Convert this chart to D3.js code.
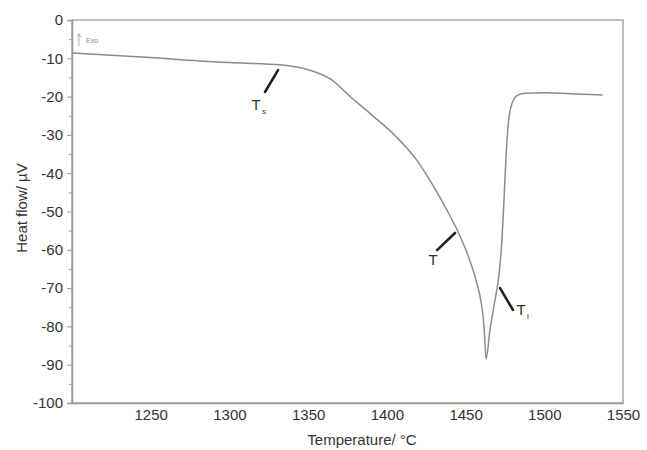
<!DOCTYPE html>
<html>
<head>
<meta charset="utf-8">
<script src="https://cdn.jsdelivr.net/npm/d3@7"></script>
<style>
  body { margin: 0; background: #fff; }
  svg { font-family: "Liberation Sans", Arial, sans-serif; }
</style>
</head>
<body>
<div id="grafico"></div>
<script>
// data
var temperature = [1200, 1250, 1281, 1300, 1332, 1351, 1364, 1377, 1389, 1406, 1419, 1429, 1438, 1446, 1452, 1457, 1460, 1461.5, 1462.3, 1463,
                   1465.5, 1468.7, 1471.2, 1473.1, 1474.4, 1475.6, 1476.9, 1479.4, 1483.2, 1487.7, 1500, 1520, 1537];
var heatFlow = [-8.6, -9.8, -10.7, -11.1, -11.7, -13.1, -15.4, -20.1, -24.3, -30.5, -36.6, -43, -49.5, -56, -62, -68.5, -74, -79, -84, -88.5,
                -80.9, -73.1, -66.6, -57.4, -47, -36.6, -28.2, -21.9, -19.6, -19.1, -19, -19.3, -19.6];

var xTicks = [1250, 1300, 1350, 1400, 1450, 1500, 1550];
var yTicks = [0, -10, -20, -30, -40, -50, -60, -70, -80, -90, -100];

// annotations: [label, sub, labelX, labelY, arrow x1, y1, x2, y2]
var marks = [
  ["T", "s", 1316.9, -23.5, 1322.6, -18.8, 1330.9, -13.1],
  ["T", "", 1429.3, -64, 1431.9, -60.1, 1443.3, -55.6],
  ["T", "l", 1485.2, -77, 1480.1, -75.7, 1471.9, -70]
];

var margin = {top: 20, right: 24, bottom: 47, left: 72},
    width = 647 - margin.left - margin.right,
    height = 450 - margin.top - margin.bottom;

var svg = d3.select("#grafico")
  .append("svg")
    .attr("width", 647)
    .attr("height", 450)
  .append("g")
    .attr("transform", "translate(" + margin.left + "," + margin.top + ")");

var x = d3.scaleLinear().domain([1200, 1550]).range([0, width]);
var y = d3.scaleLinear().domain([-100, 0]).range([height, 0]);

var axisCol = "#999", textCol = "#333";

// frame
svg.append("rect")
  .attr("width", width).attr("height", height)
  .attr("fill", "none").attr("stroke", "#aaa").attr("stroke-width", 1.5);

// y axis
var yAx = svg.append("g")
  .call(d3.axisLeft(y).tickValues(yTicks).tickSize(5).tickPadding(4).tickFormat(d3.format("d")));
yAx.select(".domain").attr("stroke", axisCol).attr("stroke-width", 1.5);
yAx.selectAll(".tick line").attr("stroke", axisCol);
yAx.selectAll("text").attr("fill", textCol).attr("font-size", 15)
  .text(function(d) { return d < 0 ? "-" + Math.abs(d) : d; });

// minor ticks
svg.append("g")
  .call(d3.axisLeft(y).tickValues(d3.range(-95, 0, 10)).tickSize(3).tickFormat(""))
  .call(function(g) { g.select(".domain").remove(); })
  .selectAll(".tick line").attr("stroke", axisCol);

// x axis
var xAx = svg.append("g")
  .attr("transform", "translate(0," + height + ")")
  .call(d3.axisBottom(x).tickValues(xTicks).tickSize(0).tickPadding(6).tickFormat(d3.format("d")));
xAx.select(".domain").attr("stroke", axisCol).attr("stroke-width", 1.5);
xAx.selectAll("text").attr("fill", textCol).attr("font-size", 15);

// axis titles
svg.append("text")
  .attr("x", 290).attr("y", height + 42)
  .attr("text-anchor", "middle")
  .attr("fill", textCol).attr("font-size", 15)
  .text("Temperature/ °C");

svg.append("text")
  .attr("transform", "rotate(-90)")
  .attr("x", -188).attr("y", -45)
  .attr("text-anchor", "middle")
  .attr("fill", textCol).attr("font-size", 15)
  .text("Heat flow/ µV");

// curve
var pts = temperature.map(function(t, i) { return [t, heatFlow[i]]; });
svg.append("path")
  .datum(pts)
  .attr("fill", "none")
  .attr("stroke", "#8c8c8c")
  .attr("stroke-width", 1.5)
  .attr("d", d3.line()
    .curve(d3.curveMonotoneX)
    .x(function(d) { return x(d[0]); })
    .y(function(d) { return y(d[1]); }));

// Exo marker
svg.append("line")
  .attr("x1", x(1204.4)).attr("y1", y(-6.8))
  .attr("x2", x(1204.4)).attr("y2", y(-3.6))
  .attr("stroke", "#999").attr("stroke-width", 0.8);
svg.append("path")
  .attr("d", "M" + (x(1204.4) - 2) + "," + (y(-3.6) + 3) + "L" + x(1204.4) + "," + y(-3.6) + "L" + (x(1204.4) + 2) + "," + (y(-3.6) + 3))
  .attr("fill", "none").attr("stroke", "#999").attr("stroke-width", 0.8);
svg.append("text")
  .attr("x", x(1208.9)).attr("y", y(-5.9))
  .attr("fill", "#888").attr("font-size", 7)
  .text("Exo");

// annotations
marks.forEach(function(m) {
  svg.append("line")
    .attr("x1", x(m[4])).attr("y1", y(m[5]))
    .attr("x2", x(m[6])).attr("y2", y(m[7]))
    .attr("stroke", "#222").attr("stroke-width", 2.6)
    .attr("stroke-linecap", "round");
  svg.append("text")
    .attr("x", x(m[2])).attr("y", y(m[3]))
    .attr("text-anchor", "middle")
    .attr("fill", textCol).attr("font-size", 15)
    .text(m[0]);
  if (m[1]) {
    svg.append("text")
      .attr("x", x(m[2]) + 6).attr("y", y(m[3]) + 4)
      .attr("fill", textCol).attr("font-size", 8)
      .text(m[1]);
  }
});
</script>
</body>
</html>
